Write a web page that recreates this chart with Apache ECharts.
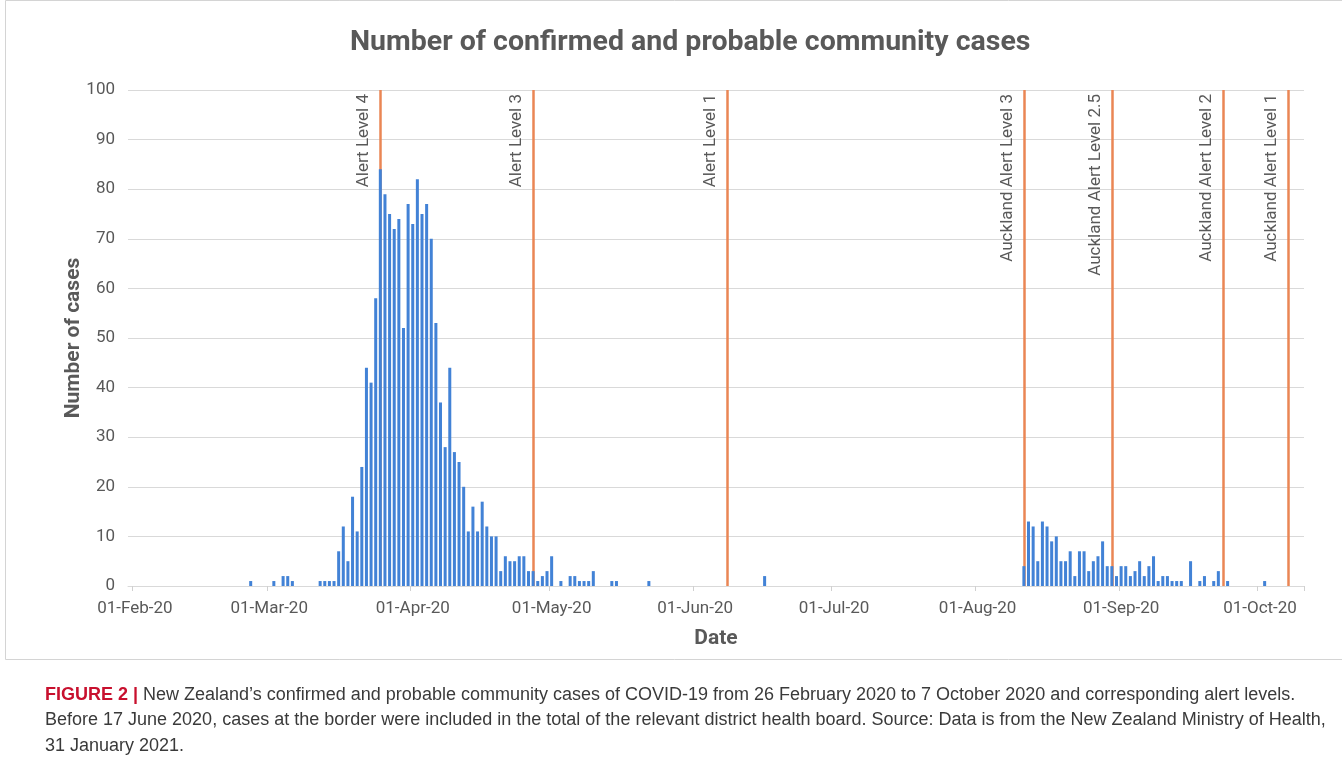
<!DOCTYPE html>
<html>
<head>
<meta charset="utf-8">
<script src="https://cdn.jsdelivr.net/npm/echarts@6/dist/echarts.min.js"></script>
<style>
  html, body { margin: 0; padding: 0; background: #fff; }
  #chart { width: 1342px; height: 762px; }
</style>
</head>
<body>
<div id="chart"></div>
<script>
// ---- data ----
const axisStart = '2020-01-31';
const axisEnd = '2020-10-10';

const caseDates = [
  '2020-02-26','2020-03-02','2020-03-04','2020-03-05','2020-03-06',
  '2020-03-12','2020-03-13','2020-03-14','2020-03-15','2020-03-16','2020-03-17','2020-03-18','2020-03-19','2020-03-20',
  '2020-03-21','2020-03-22','2020-03-23','2020-03-24','2020-03-25','2020-03-26','2020-03-27','2020-03-28','2020-03-29',
  '2020-03-30','2020-03-31','2020-04-01','2020-04-02','2020-04-03','2020-04-04','2020-04-05','2020-04-06','2020-04-07',
  '2020-04-08','2020-04-09','2020-04-10','2020-04-11','2020-04-12','2020-04-13','2020-04-14','2020-04-15','2020-04-16',
  '2020-04-17','2020-04-18','2020-04-19','2020-04-20','2020-04-21','2020-04-22','2020-04-23','2020-04-24','2020-04-25',
  '2020-04-26','2020-04-27','2020-04-28','2020-04-29','2020-04-30','2020-05-01','2020-05-03','2020-05-05','2020-05-06',
  '2020-05-07','2020-05-08','2020-05-09','2020-05-10','2020-05-14','2020-05-15','2020-05-22','2020-06-16',
  '2020-08-11','2020-08-12','2020-08-13','2020-08-14','2020-08-15','2020-08-16','2020-08-17','2020-08-18','2020-08-19',
  '2020-08-20','2020-08-21','2020-08-22','2020-08-23','2020-08-24','2020-08-25','2020-08-26','2020-08-27','2020-08-28',
  '2020-08-29','2020-08-30','2020-08-31','2020-09-01','2020-09-02','2020-09-03','2020-09-04','2020-09-05','2020-09-06',
  '2020-09-07','2020-09-08','2020-09-09','2020-09-10','2020-09-11','2020-09-12','2020-09-13','2020-09-14','2020-09-16',
  '2020-09-18','2020-09-19','2020-09-21','2020-09-22','2020-09-24','2020-10-02'
];
const caseValues = [
  1,1,2,2,1,
  1,1,1,1,7,12,5,18,11,
  24,44,41,58,84,79,75,72,74,
  52,77,73,82,75,77,70,53,37,
  28,44,27,25,20,11,16,11,17,
  12,10,10,3,6,5,5,6,6,
  3,3,1,2,3,6,1,2,2,
  1,1,1,3,1,1,1,2,
  4,13,12,5,13,12,9,10,5,
  5,7,2,7,7,3,5,6,9,
  4,4,2,4,4,2,3,5,2,
  4,6,1,2,2,1,1,1,5,
  1,2,1,3,1,1
];

const alertDates = ['2020-03-25','2020-04-27','2020-06-08','2020-08-11','2020-08-30','2020-09-23','2020-10-07'];
const alertLabels = ['Alert Level 4','Alert Level 3','Alert Level 1','Auckland Alert Level 3','Auckland Alert Level 2.5','Auckland Alert Level 2','Auckland Alert Level 1'];

const yTicks = { min: 0, max: 100, interval: 10 };
const monthNames = ['Jan','Feb','Mar','Apr','May','Jun','Jul','Aug','Sep','Oct','Nov','Dec'];

// ---- build categories (one per day) ----
const days = [];
for (let t = Date.parse(axisStart + 'T00:00:00Z'); t <= Date.parse(axisEnd + 'T00:00:00Z'); t += 86400000) {
  days.push(new Date(t).toISOString().slice(0, 10));
}
const valueByDay = {};
caseDates.forEach((d, i) => { valueByDay[d] = caseValues[i]; });
const barData = days.map(d => (d in valueByDay ? valueByDay[d] : 0));

function isMonthStart(index, value) { return value.slice(8, 10) === '01'; }
function fmtDate(v) {
  return v.slice(8, 10) + '-' + monthNames[parseInt(v.slice(5, 7), 10) - 1] + '-' + v.slice(2, 4);
}

const FONT = 'Roboto';
const GRAY = '#595959';

const chart = echarts.init(document.getElementById('chart'), null, { renderer: 'canvas' });
chart.setOption({
  backgroundColor: '#ffffff',
  animation: false,
  title: [
    {
      text: 'Number of confirmed and probable community cases',
      left: 345,
      top: 23,
      textStyle: { fontFamily: FONT, fontSize: 28.5, fontWeight: 'bold', color: GRAY }
    },
    {
      text: '{r|FIGURE 2 |} New Zealand\u2019s confirmed and probable community cases of COVID-19 from 26 February 2020 to 7 October 2020 and corresponding alert levels.\n' +
            'Before 17 June 2020, cases at the border were included in the total of the relevant district health board. Source: Data is from the New Zealand Ministry of Health,\n' +
            '31 January 2021.',
      left: 40,
      top: 677,
      textStyle: {
        fontFamily: 'Liberation Sans',
        fontSize: 18,
        fontWeight: 'normal',
        color: '#3a3a3a',
        lineHeight: 25.5,
        rich: {
          r: { fontFamily: 'Liberation Sans', fontSize: 18, fontWeight: 'bold', color: '#c8102e', lineHeight: 25.5 }
        }
      }
    }
  ],
  graphic: [
    {
      type: 'rect',
      shape: { x: 5.5, y: 0.5, width: 1400, height: 659 },
      style: { fill: 'none', stroke: '#d4d4d4', lineWidth: 1 },
      silent: true
    }
  ],
  grid: { left: 128, right: 38, top: 90, bottom: 176 },
  xAxis: {
    type: 'category',
    data: days,
    boundaryGap: true,
    name: 'Date',
    nameLocation: 'middle',
    nameGap: 42,
    nameTextStyle: { fontFamily: FONT, fontSize: 21, fontWeight: 'bold', color: GRAY },
    axisLine: { show: true, lineStyle: { color: '#d9d9d9', width: 1 } },
    axisTick: { show: true, interval: isMonthStart, length: 5, lineStyle: { color: '#d0d0d0' } },
    axisLabel: {
      interval: isMonthStart,
      formatter: fmtDate,
      fontFamily: FONT, fontSize: 17, color: GRAY, margin: 14
    },
    splitLine: { show: false }
  },
  yAxis: {
    type: 'value',
    min: yTicks.min, max: yTicks.max, interval: yTicks.interval,
    name: 'Number of cases',
    nameLocation: 'middle',
    nameGap: 44,
    nameMoveOverlap: false,
    nameRotate: 90,
    nameTextStyle: { fontFamily: FONT, fontSize: 21, fontWeight: 'bold', color: GRAY },
    axisLine: { show: false },
    axisTick: { show: false },
    axisLabel: { fontFamily: FONT, fontSize: 17, color: GRAY, margin: 13 },
    splitLine: { lineStyle: { color: '#d9d9d9', width: 1 } }
  },
  series: [
    {
      type: 'bar',
      data: barData,
      barCategoryGap: '35%',
      itemStyle: { color: '#4282d6' },
      z: 3,
      markLine: {
        silent: true,
        symbol: 'none',
        z: 1,
        animation: false,
        lineStyle: { color: '#EA8654', width: 2.5, type: 'solid' },
        label: {
          show: true,
          position: 'insideEndTop',
          formatter: '{b}',
          fontFamily: FONT,
          fontSize: 17,
          color: GRAY,
          distance: [4, 8]
        },
        data: alertDates.map((d, i) => ({ name: alertLabels[i], xAxis: d }))
      }
    }
  ]
});
</script>
</body>
</html>
